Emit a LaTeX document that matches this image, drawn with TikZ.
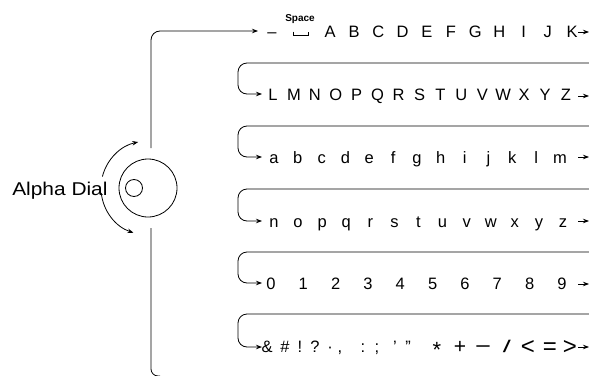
\documentclass[tikz,border=0pt]{standalone}
\usepackage{fontspec}
\setmainfont{Liberation Sans}
\usetikzlibrary{arrows.meta}
\begin{document}
\begin{tikzpicture}[x=1pt,y=-1pt, line width=0.8pt,
  tip/.style={-{Stealth[length=6pt,width=4.5pt]}},
  ch/.style={anchor=base, inner sep=0pt, font=\fontsize{16.5}{16.5}\selectfont},
  bigch/.style={anchor=base, inner sep=0pt, font=\fontsize{24}{24}\selectfont},
  loopline/.style={tip, rounded corners=9pt}]
\useasboundingbox (0,0) rectangle (589,375);

% dial
\node[circle, draw, minimum size=58pt, inner sep=0pt] (dial) at (148,188) {};
\node[circle, draw, minimum size=17pt, inner sep=0pt] (knob) at (134,188) {};
\node[anchor=base east, inner sep=0pt, font=\fontsize{18.5}{18.5}\selectfont, xscale=1.13] (label) at (108,195) {Alpha Dial};
\draw[tip] (dial.center) ++(-166:47) arc[start angle=-166, end angle=-102, radius=47];
\draw[tip] (dial.center) ++(-186:47) arc[start angle=-186, end angle=-252, radius=47];

% feed lines
\coordinate (dtop) at (151,148);
\coordinate (toptip) at (258,31);
\draw[loopline] (dtop) |- (toptip);
\coordinate (dbot) at (151,228);
\coordinate (botend) at (160,376);
\draw[rounded corners=7pt] (dbot) |- (botend);

% row 1
\node[ch] (dash) at (272,37) {–};
\draw (293,31.5) -- (293,35) -- (308,35) -- (308,31.5);
\node[anchor=base, inner sep=0pt, font=\bfseries\fontsize{10}{10}\selectfont] (space) at (300,21) {Space};
\foreach \c [count=\i, evaluate=\i as \x using 330+(\i-1)*24.2] in {A,B,C,D,E,F,G,H,I,J,K}
  \node[ch] (r1-\i) at (\x,37) {\c};
\foreach \c [count=\i, evaluate=\i as \x using 273+(\i-1)*20.93] in {L,M,N,O,P,Q,R,S,T,U,V,W,X,Y,Z}
  \node[ch] (r2-\i) at (\x,100) {\c};
\foreach \c [count=\i, evaluate=\i as \x using 274+(\i-1)*23.83] in {a,b,c,d,e,f,g,h,i,j,k,l,m}
  \node[ch] (r3-\i) at (\x,163) {\c};
\foreach \c [count=\i, evaluate=\i as \x using 274+(\i-1)*24.08] in {n,o,p,q,r,s,t,u,v,w,x,y,z}
  \node[ch] (r4-\i) at (\x,227) {\c};
\foreach \c [count=\i, evaluate=\i as \x using 271+(\i-1)*32.33] in {0,1,2,3,4,5,6,7,8,9}
  \node[ch] (r5-\i) at (\x,289) {\c};

% row 6
\node[ch] (s1) at (267,352) {\&};
\node[ch] (s2) at (285,352) {\#};
\node[ch] (s3) at (300,352) {!};
\node[ch] (s4) at (315,352) {?};
\node[ch] (s5) at (330,352) {·};
\node[ch] (s6) at (340,352) {,};
\node[ch] (s7) at (363,352) {:};
\node[ch] (s8) at (377,352) {;};
\node[ch] (s9) at (395,352) {'};
\node[ch] (s10) at (408,352) {"};
\node[ch, font=\fontsize{22}{22}\selectfont] (s11) at (437,357) {*};
\node[ch, font=\fontsize{21}{21}\selectfont] (s12) at (460,353) {+};
\node[ch, font=\fontsize{21}{21}\selectfont, xscale=1.3] (s13) at (483,353) {−};
\node[ch, font=\fontsize{17}{17}\selectfont, xscale=1.7] (s14) at (507,352) {/};
\node[bigch] (s15) at (528,354) {<};
\node[bigch] (s16) at (550,354) {=};
\node[bigch] (s17) at (570,354) {>};

% loops
\foreach \k/\yt/\ya in {2/63/94, 3/126/157, 4/189/221, 5/252/283, 6/314/347} {
  \coordinate (L\k-r) at (589,\yt);
  \coordinate (L\k-a) at (262,\ya);
  \draw[loopline] (L\k-r) -| (238,\ya) -- (L\k-a);
}

% end arrows
\foreach \k/\y in {1/32, 2/96, 3/157, 4/221, 5/284, 6/347} {
  \coordinate (E\k-s) at (578,\y);
  \coordinate (E\k-t) at (589,\y);
  \draw[tip] (E\k-s) -- (E\k-t);
}
\end{tikzpicture}
\end{document}
